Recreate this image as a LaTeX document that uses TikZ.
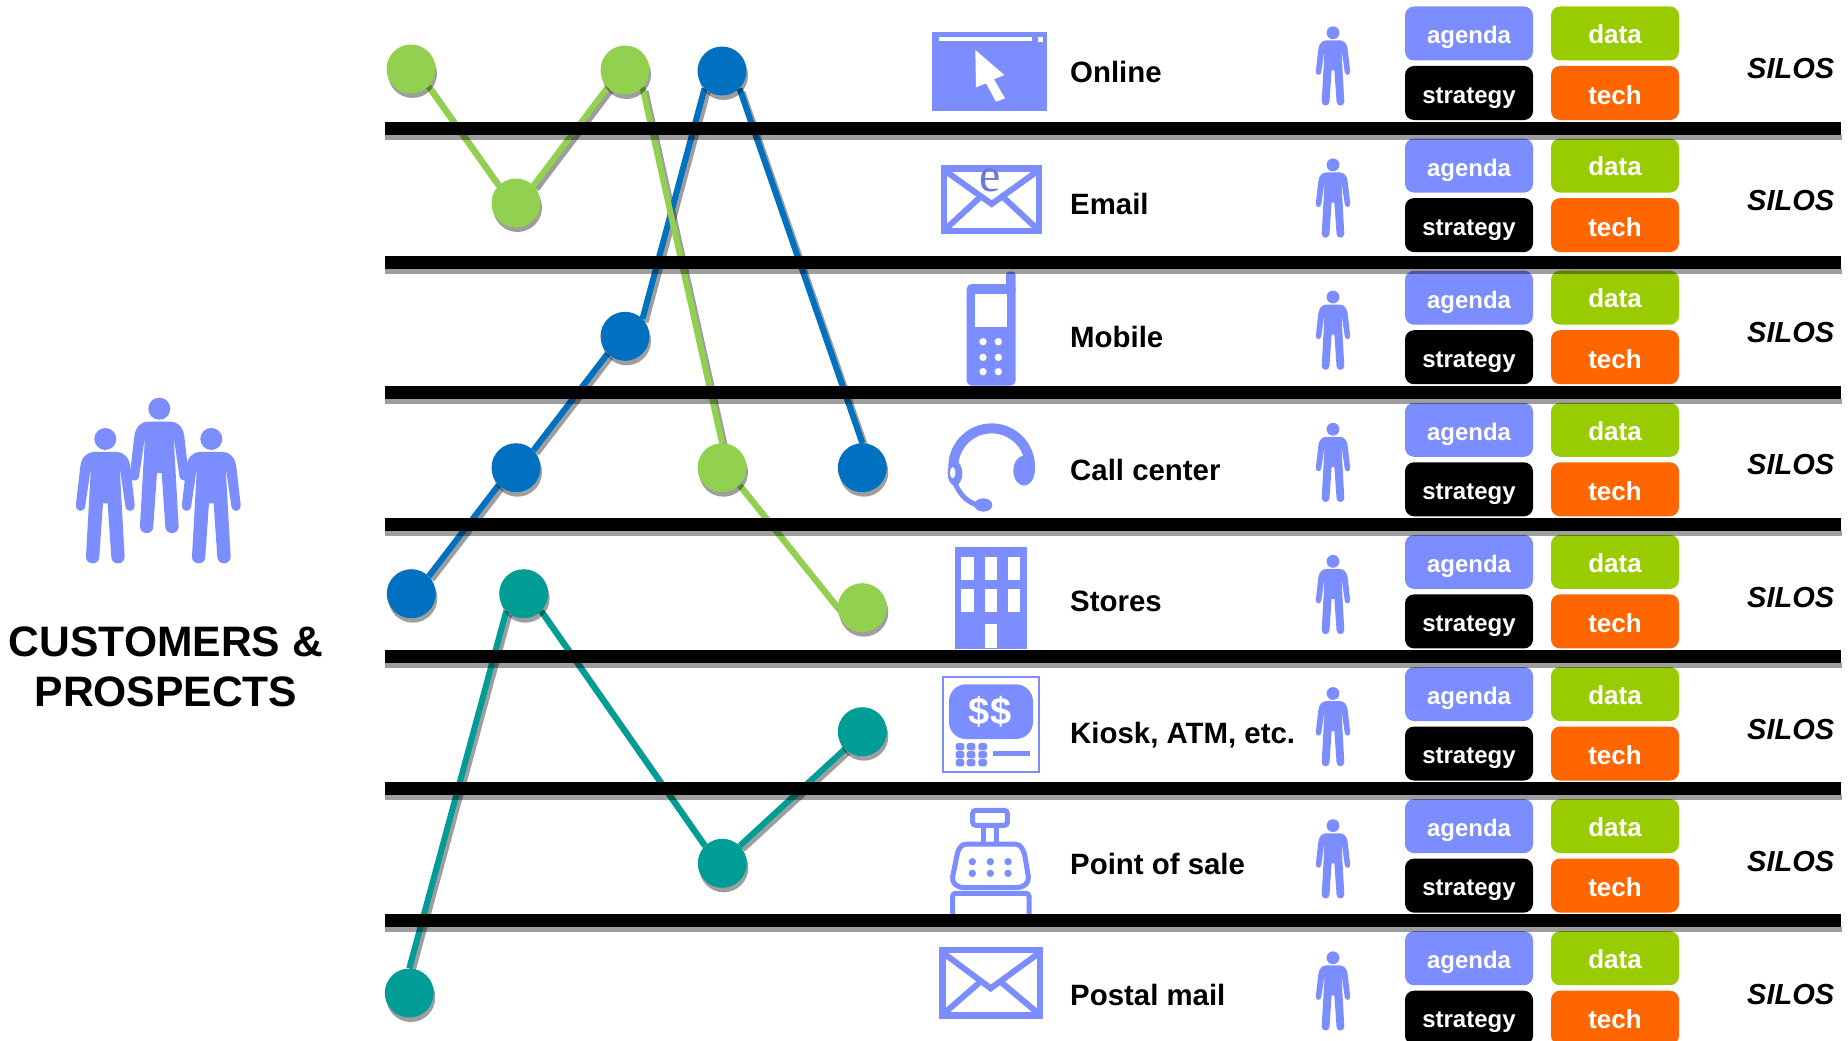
\documentclass[tikz,border=0pt]{standalone}
\usepackage{fontspec}
\setmainfont{Liberation Sans}
\usetikzlibrary{shadows}
\definecolor{peri}{HTML}{7C8DFF}
\definecolor{dgreen}{HTML}{92D050}
\definecolor{dblue}{HTML}{0070C0}
\definecolor{dteal}{HTML}{009C96}
\definecolor{boxgreen}{HTML}{99CC00}
\definecolor{boxorange}{HTML}{FF6600}
\pgfdeclarelayer{under}
\pgfsetlayers{under,main}
\newcommand{\personfig}{%
  \fill[peri] (0,32) circle [radius=33];
  \fill[peri] (7,225) -- (18,385) .. controls (18,412) and (58,412) .. (58,385) -- (43,116) -- (60,232) .. controls (62,254) and (90,254) .. (88,228) -- (75,115) .. controls (72,88) and (55,71) .. (35,71) -- (-35,71) .. controls (-55,71) and (-72,88) .. (-75,115) -- (-88,228) .. controls (-90,254) and (-62,254) .. (-60,232) -- (-43,116) -- (-58,385) .. controls (-58,412) and (-18,412) .. (-18,385) -- (-7,225) -- cycle;
}
\newcommand{\bluepath}{(b1.north east) -- (b2.south west) (b2.north east) -- (b3.south west) (b3.north east) -- (b4.south west) (b4.south east) -- (b5.north)}
\newcommand{\greenpath}{(g1.south east) -- (g2.north west) (g2.north east) -- (g3.south west) (g3.south east) -- (g4.north) (g4.south east) -- (g5.west)}
\newcommand{\tealpath}{(t1.north) -- (t2.south west) (t2.south east) -- (t3.north west) (t3.north east) -- (t4.south west)}
\tikzset{
  dot/.style={circle,inner sep=0pt,minimum size=49pt,fill=#1,
    drop shadow={shadow xshift=1.5pt,shadow yshift=-4.5pt,fill=black,opacity=.38}},
  link/.style={line width=6pt,draw=#1},
  linkshadow/.style={line width=6pt,draw=black,opacity=.38,transform canvas={xshift=3pt,yshift=-3.5pt}},
  tag/.style={rounded corners=9pt,inner sep=0pt,minimum width=128pt,minimum height=54pt,fill=#1,text=white,align=center},
  tagsmall/.style={font=\fontsize{24}{28}\selectfont\bfseries},
  tagbig/.style={font=\fontsize{26}{28}\selectfont\bfseries},
  rowlabel/.style={anchor=base west,inner sep=0pt,font=\fontsize{29.4}{32}\selectfont\bfseries},
  silos/.style={anchor=base west,inner sep=0pt,font=\fontsize{29}{32}\selectfont\bfseries\itshape},
  heading/.style={inner sep=0pt,anchor=base,font=\fontsize{42.6}{48}\selectfont\bfseries},
  icon/.style={fill=peri},
  iconline/.style={draw=peri,line width=#1},
}
\begin{document}
\begin{tikzpicture}[x=1pt,y=-1pt]
\useasboundingbox (0,0) rectangle (1848,1041);
% dots
\node[dot=dgreen] (g1) at (411,69) {};
\node[dot=dgreen] (g2) at (516,203) {};
\node[dot=dgreen] (g3) at (625,70) {};
\node[dot=dgreen] (g4) at (722,467.7) {};
\node[dot=dgreen] (g5) at (862.3,607.7) {};
\node[dot=dblue] (b1) at (411.3,593.7) {};
\node[dot=dblue] (b2) at (516,467.7) {};
\node[dot=dblue] (b3) at (625,336.3) {};
\node[dot=dblue] (b4) at (722,71) {};
\node[dot=dblue] (b5) at (862.3,467.7) {};
\node[dot=dteal] (t1) at (409.3,993) {};
\node[dot=dteal] (t2) at (523.7,593.7) {};
\node[dot=dteal] (t3) at (722.3,863.3) {};
\node[dot=dteal] (t4) at (862.3,731.7) {};
% people at left
\begin{scope}[shift={(159.3,398)},scale=1/3]\personfig\end{scope}
\begin{scope}[shift={(105.3,428.3)},scale=1/3]\personfig\end{scope}
\begin{scope}[shift={(211.3,428.3)},scale=1/3]\personfig\end{scope}
\node[heading] (h1) at (166,656) {CUSTOMERS \&};
\node[heading] (h2) at (166,706.7) {PROSPECTS};

\begin{pgfonlayer}{under}
% line shadows and lines
\draw[linkshadow] \bluepath;
\draw[linkshadow] \greenpath;
\draw[linkshadow] \tealpath;
\draw[link=dblue] \bluepath;
\draw[link=dgreen] \greenpath;
\draw[link=dteal] \tealpath;

% Online icon
\begin{scope}[shift={(900,0)},scale=1/3]
  \fill[icon] (96,96) rectangle (442,333);
  \fill[white] (117,112) rectangle (395,124);
  \fill[white] (413,110) rectangle (428,125);
  \fill[white] (226,150) -- (313,225) -- (282,238) -- (315,295) -- (288,305) -- (258,250) -- (228,262) -- cycle;
  % Email icon
  \fill[icon] (122,495) rectangle (427,703);
  \fill[white] (142,515) rectangle (407,683);
  \draw[iconline=6pt] (132,510) -- (275,612) -- (417,510);
  \draw[iconline=6pt] (134,690) -- (240,592);
  \draw[iconline=6pt] (415,690) -- (310,592);
  \node[inner sep=0pt,text=peri!85!black,font=\fontsize{48}{48}\selectfont\fontspec{Liberation Serif}] (emaile) at (270,540) {e};
\end{scope}
% Mobile, headset, building
\begin{scope}[shift={(900,260)},scale=1/3]
  \fill[icon,rounded corners=3pt] (318,35) rectangle (347,100);
  \fill[icon,rounded corners=5pt] (200,72) rectangle (347,377);
  \fill[white] (226,102) rectangle (320,202);
  \foreach \ky in {245,292,335}{\foreach \kx in {249,295}{\fill[white] (\kx,\ky) circle [radius=11];}}
  \draw[iconline=10pt] (275,620) ++(170:115) arc (170:370:115);
  \fill[icon] (165,640) ellipse [x radius=22,y radius=37];
  \fill[white] (158,638) ellipse [x radius=8,y radius=17];
  \fill[icon] (372,632) ellipse [x radius=32,y radius=45];
  \draw[iconline=5pt] (165,670) .. controls (180,705) and (205,730) .. (240,737);
  \fill[icon] (250,735) ellipse [x radius=27,y radius=20];
  \fill[icon] (165,861) rectangle (380,1167);
  \foreach \wy in {890,986}{\foreach \wx in {184,254,324}{\fill[white] (\wx,\wy) rectangle ++(37,70);}}
  \fill[white] (254,1092) rectangle (291,1163);
\end{scope}
% Kiosk, till, envelope
\begin{scope}[shift={(900,660)},scale=1/3]
  \draw[iconline=2pt] (129,50) rectangle (417,336);
  \fill[icon,rounded corners=17pt] (147,73) rectangle (399,237);
  \node[inner sep=0pt,text=white,font=\fontsize{38}{40}\selectfont\bfseries] (dollars) at (270,155) {\$\$};
  \foreach \ky in {260,284,308}{\foreach \kx in {180,213,248}{\fill[icon,rounded corners=2.5pt] (\kx-13,\ky-11) rectangle ++(26,22);}}
  \fill[icon] (279,272) rectangle (391,288);
  \draw[iconline=5pt,rounded corners=3pt] (218,451) rectangle (322,496);
  \draw[iconline=5pt] (250,500) -- (250,550);
  \draw[iconline=5pt] (290,500) -- (290,550);
  \draw[iconline=5pt] (200,552) -- (345,552) .. controls (365,552) and (372,575) .. (375,590) -- (385,650) .. controls (388,670) and (370,683) .. (350,683) -- (195,683) .. controls (170,683) and (155,670) .. (158,650) -- (170,590) .. controls (173,570) and (182,552) .. (200,552) -- cycle;
  \foreach \ky in {605,640}{\foreach \kx in {217,271,324}{\fill[icon] (\kx,\ky) circle [radius=11];}}
  \draw[iconline=5pt,rounded corners=3pt] (158,700) rectangle (387,775);
  \fill[icon] (117,861) rectangle (429,1077);
  \fill[white] (137,880) rectangle (410,1057);
  \draw[iconline=6pt] (127,877) -- (272,985) -- (420,877);
  \draw[iconline=6pt] (130,1062) -- (238,968);
  \draw[iconline=6pt] (417,1062) -- (305,968);
\end{scope}

% small people, tags, SILOS
\begin{scope}
\clip (0,0) rectangle (1848,1041);
\foreach \i [evaluate=\i as \ya using 33.5+132.1*\i,
             evaluate=\i as \ys using 93+132.1*\i,
             evaluate=\i as \yp using 26.5+132.15*\i,
             evaluate=\i as \yt using 78+132.3*\i] in {0,...,7}{
  \begin{scope}[shift={(1333,\yp)},scale=.195]\personfig\end{scope}
  \node[tag=peri,tagsmall,text height=21pt,text depth=0pt] (agenda\i) at (1469,\ya) {agenda};
  \node[tag=black,tagsmall,text height=20.5pt,text depth=0pt] (strategy\i) at (1469,\ys) {strategy};
  \node[tag=boxgreen,tagbig,text height=20.5pt,text depth=0pt] (data\i) at (1615,\ya) {data};
  \node[tag=boxorange,tagbig,text height=22pt,text depth=0pt] (tech\i) at (1615,\ys) {tech};
  \node[silos] (silos\i) at (1747,\yt) {SILOS};
}
\end{scope}

% row names
\node[rowlabel] (r1) at (1070,82) {Online};
\node[rowlabel] (r2) at (1070,214) {Email};
\node[rowlabel] (r3) at (1070,347) {Mobile};
\node[rowlabel] (r4) at (1070,480) {Call center};
\node[rowlabel] (r5) at (1070,611.5) {Stores};
\node[rowlabel] (r6) at (1070,743) {Kiosk, ATM, etc.};
\node[rowlabel] (r7) at (1070,874) {Point of sale};
\node[rowlabel] (r8) at (1070,1005) {Postal mail};

% bars
\foreach \by in {121.5,255.5,386,517.5,649.5,782,914}{
  \fill[black,opacity=.38] (385,\by+13) rectangle (1842,\by+18);
  \fill[black] (385,\by) rectangle (1841,\by+13);
}
\end{pgfonlayer}
\end{tikzpicture}
\end{document}
